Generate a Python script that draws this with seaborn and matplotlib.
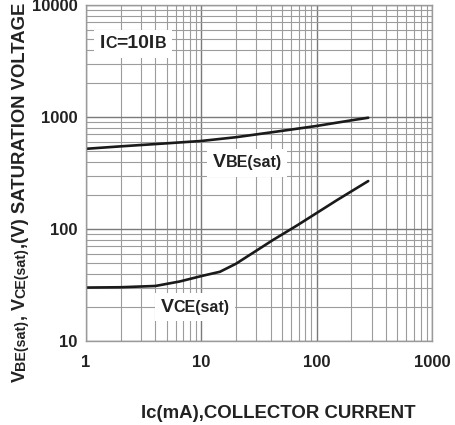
import numpy as np
import pandas as pd
import matplotlib
matplotlib.use("Agg")
import matplotlib.pyplot as plt
import seaborn as sns
from matplotlib.ticker import LogLocator, NullFormatter
from matplotlib.offsetbox import TextArea, HPacker, AnnotationBbox
from matplotlib.transforms import IdentityTransform

# values (Ic in mA, V in mV)
ic_vbe = [1, 2, 5, 10, 20, 50, 100, 200, 280]
vbe_sat = [520, 547, 582, 611, 660, 752, 832, 934, 985]
ic_vce = [1, 2, 4, 6.5, 10, 14.5, 20, 42, 68, 150, 280]
vce_sat = [30, 30.2, 31, 34, 38, 41.5, 49, 80, 108, 181, 268]

x_ticks = [1, 10, 100, 1000]
x_tick_labels = ["1", "10", "100", "1000"]
y_ticks = [10, 100, 1000, 10000]
y_tick_labels = ["10", "100", "1000", "10000"]

df = pd.concat([
    pd.DataFrame({"ic": ic_vbe, "v": vbe_sat, "curve": "VBE(sat)"}),
    pd.DataFrame({"ic": ic_vce, "v": vce_sat, "curve": "VCE(sat)"}),
])

sns.set_style("white")
plt.rcParams["font.family"] = ["Liberation Sans", "DejaVu Sans"]
plt.rcParams["font.weight"] = "bold"

fig = plt.figure(figsize=(4.55, 4.25), dpi=100)
ax = fig.add_axes([86 / 455, 84 / 425, 346 / 455, 336 / 425])

sns.lineplot(data=df, x="ic", y="v", units="curve", estimator=None,
             color="#1a1a1a", linewidth=1.9, sort=True, ax=ax, legend=False)

ax.set_xscale("log")
ax.set_yscale("log")
ax.set_xlim(1, 1000)
ax.set_ylim(10, 10000)

ax.xaxis.set_minor_locator(LogLocator(base=10, subs=np.arange(2, 10)))
ax.yaxis.set_minor_locator(LogLocator(base=10, subs=np.arange(2, 10)))
ax.xaxis.set_minor_formatter(NullFormatter())
ax.yaxis.set_minor_formatter(NullFormatter())
ax.set_axisbelow(True)
ax.grid(which="major", color="#7a7a7a", linewidth=1.0)
ax.grid(which="minor", color="#9c9c9c", linewidth=0.8)
for sp in ax.spines.values():
    sp.set_color("#9a9a9a")
    sp.set_linewidth(1.0)

ax.set_xticks(x_ticks, labels=x_tick_labels)
ax.set_yticks(y_ticks, labels=y_tick_labels)
ax.tick_params(which="both", length=0, labelsize=12)
ax.tick_params(axis="x", pad=10)
ax.tick_params(axis="y", pad=6)
for lab in ax.get_xticklabels() + ax.get_yticklabels():
    lab.set_fontweight("bold")
    lab.set_color("#222222")
ax.set_xlabel("")
ax.set_ylabel("")


def boxed_label(parts, xy):
    areas = [TextArea(s, textprops=dict(fontsize=size, fontweight="bold", color="#222222"))
             for s, size in parts]
    pack = HPacker(children=areas, align="baseline", pad=0, sep=0)
    ab = AnnotationBbox(pack, xy, xycoords="data", frameon=True, pad=0.4,
                        bboxprops=dict(facecolor="white", edgecolor="none"))
    ax.add_artist(ab)


boxed_label([("I", 14), ("C", 11.5), ("=10I", 14), ("B", 11.5)], (2.55, 4500))
boxed_label([("V", 14), ("BE(sat)", 11.5)], (25, 390))
boxed_label([("V", 14), ("CE(sat)", 11.5)], (8.8, 20))

# x label
fig.text(278, 12, "Ic(mA),COLLECTOR CURRENT", transform=IdentityTransform(),
         ha="center", va="center", fontsize=13.4, fontweight="bold", color="#222222")

# y label with mixed sizes, stacked bottom to top
renderer = fig.canvas.get_renderer()
y_parts = [("V", 13), ("BE(sat)", 10.3), (", V", 13), ("CE(sat)", 10.3),
           (",(V) SATURATION VOLTAGE", 13.3)]
ypos = 43
for s, size in y_parts:
    t = fig.text(25, ypos, s, transform=IdentityTransform(), rotation=90,
                 rotation_mode="anchor", ha="left", va="baseline",
                 fontsize=size, fontweight="bold", color="#222222")
    ypos += t.get_window_extent(renderer).height

fig.savefig("out.png", dpi=100)
